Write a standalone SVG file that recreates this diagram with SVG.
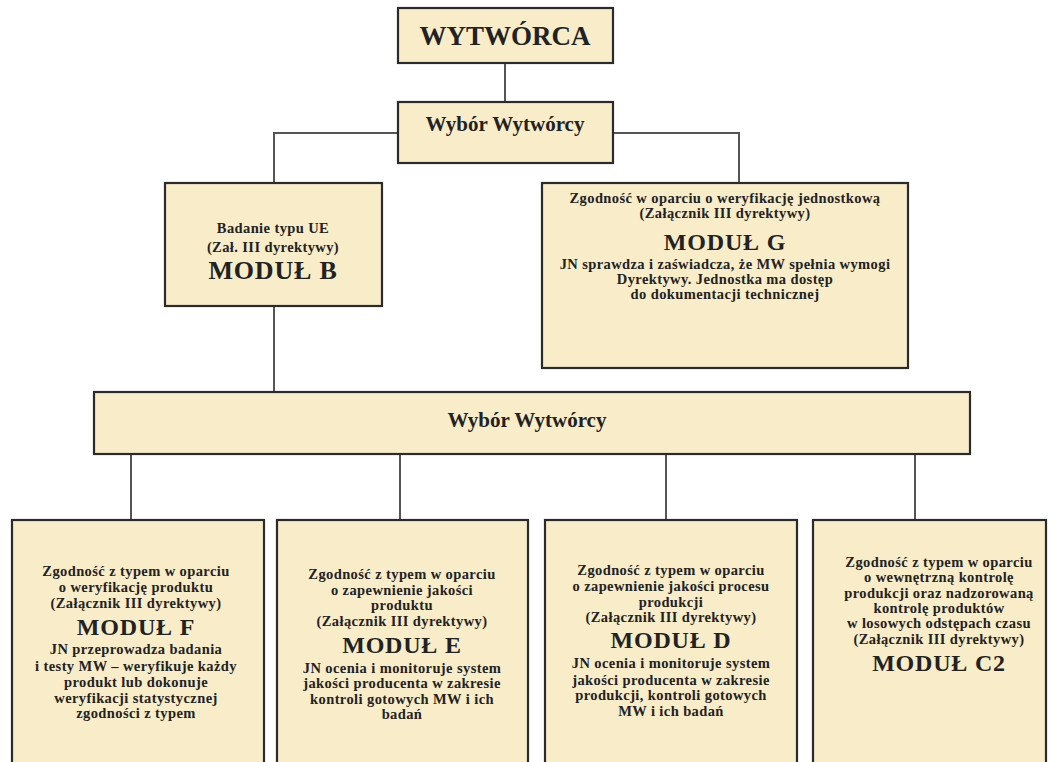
<svg xmlns="http://www.w3.org/2000/svg" width="1056" height="762" viewBox="0 0 1056 762">
<style>
.box{fill:#f8ecc9;stroke:#2b2b2b;stroke-width:2.2}
.con{stroke:#555;stroke-width:2;fill:none}
text{font-family:"Liberation Serif","Times New Roman",serif;font-weight:bold;fill:#222;text-anchor:middle}
.s{font-size:14.5px;letter-spacing:0.4px}
.m{font-size:24px;letter-spacing:0.8px}
.w{font-size:21px}
</style>
<rect width="1056" height="762" fill="#ffffff"/>
<g id="connectors">
<line class="con" x1="505" y1="63" x2="505" y2="102"/>
<polyline class="con" points="274,183 274,133 398,133"/>
<polyline class="con" points="613,133 739,133 739,183"/>
<line class="con" x1="274" y1="306" x2="274" y2="392"/>
<line class="con" x1="131" y1="454" x2="131" y2="520"/>
<line class="con" x1="400" y1="454" x2="400" y2="520"/>
<line class="con" x1="666" y1="454" x2="666" y2="520"/>
<line class="con" x1="915" y1="454" x2="915" y2="520"/>
</g>
<g id="wytworca">
<rect class="box" x="398" y="8" width="215" height="55"/>
<text x="505" y="45" style="font-size:27px">WYTWÓRCA</text>
</g>
<g id="wybor1">
<rect class="box" x="398" y="102" width="215" height="61"/>
<text class="w" x="505" y="131">Wybór Wytwórcy</text>
</g>
<g id="modul-b">
<rect class="box" x="165" y="183" width="217" height="123"/>
<text class="s" x="273" y="233">Badanie typu UE</text>
<text class="s" x="273" y="252">(Zał. III dyrektywy)</text>
<text class="m" x="273" y="279" style="font-size:26px">MODUŁ B</text>
</g>
<g id="modul-g">
<rect class="box" x="542" y="183" width="366" height="185"/>
<text class="s" x="725" y="203">Zgodność  w oparciu o weryfikację jednostkową</text>
<text class="s" x="725" y="218">(Załącznik III dyrektywy)</text>
<text class="m" x="725" y="250" style="font-size:24px">MODUŁ G</text>
<text class="s" x="725" y="269">JN sprawdza  i zaświadcza, że MW spełnia wymogi</text>
<text class="s" x="725" y="284">Dyrektywy. Jednostka ma dostęp</text>
<text class="s" x="725" y="299">do dokumentacji technicznej</text>
</g>
<g id="wybor2">
<rect class="box" x="94" y="392" width="876" height="62"/>
<text class="w" x="527" y="427">Wybór Wytwórcy</text>
</g>
<g id="modul-f">
<rect class="box" x="12" y="520" width="252" height="260"/>
<text class="s" x="136" y="576">Zgodność z typem w oparciu</text>
<text class="s" x="136" y="592">o weryfikację produktu</text>
<text class="s" x="136" y="608">(Załącznik III dyrektywy)</text>
<text class="m" x="136" y="635">MODUŁ F</text>
<text class="s" x="136" y="654">JN przeprowadza badania</text>
<text class="s" x="136" y="671">i testy MW – weryfikuje każdy</text>
<text class="s" x="136" y="687">produkt lub dokonuje</text>
<text class="s" x="136" y="703">weryfikacji statystycznej</text>
<text class="s" x="136" y="718">zgodności z typem</text>
</g>
<g id="modul-e">
<rect class="box" x="277" y="520" width="251" height="260"/>
<text class="s" x="402" y="579">Zgodność z typem w oparciu</text>
<text class="s" x="402" y="595">o zapewnienie jakości</text>
<text class="s" x="402" y="610">produktu</text>
<text class="s" x="402" y="626">(Załącznik III dyrektywy)</text>
<text class="m" x="402" y="653">MODUŁ E</text>
<text class="s" x="402" y="673">JN ocenia  i monitoruje system</text>
<text class="s" x="402" y="688">jakości producenta w zakresie</text>
<text class="s" x="402" y="704">kontroli gotowych MW i ich</text>
<text class="s" x="402" y="719">badań</text>
</g>
<g id="modul-d">
<rect class="box" x="545" y="520" width="252" height="260"/>
<text class="s" x="671" y="575">Zgodność z typem w oparciu</text>
<text class="s" x="671" y="591">o zapewnienie jakości procesu</text>
<text class="s" x="671" y="607">produkcji</text>
<text class="s" x="671" y="622">(Załącznik III dyrektywy)</text>
<text class="m" x="671" y="648">MODUŁ D</text>
<text class="s" x="671" y="668">JN ocenia i monitoruje system</text>
<text class="s" x="671" y="685">jakości producenta w zakresie</text>
<text class="s" x="671" y="700">produkcji, kontroli gotowych</text>
<text class="s" x="671" y="716">MW i ich badań</text>
</g>
<g id="modul-c2">
<rect class="box" x="813" y="520" width="233" height="260"/>
<text class="s" x="939" y="567">Zgodność z typem w oparciu</text>
<text class="s" x="939" y="582">o wewnętrzną kontrolę</text>
<text class="s" x="939" y="598">produkcji oraz nadzorowaną</text>
<text class="s" x="939" y="613">kontrolę produktów</text>
<text class="s" x="939" y="628">w losowych odstępach czasu</text>
<text class="s" x="939" y="644">(Załącznik III dyrektywy)</text>
<text class="m" x="939" y="671">MODUŁ C2</text>
</g>
</svg>
